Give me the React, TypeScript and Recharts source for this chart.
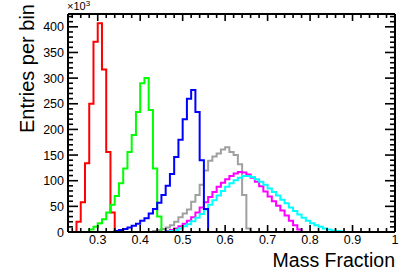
import React from 'react';
import { LineChart, Line, XAxis, YAxis } from 'recharts';

// histogram bin lower edges (bin width 0.01)
const binEdges = [
  0.23, 0.24, 0.25, 0.26, 0.27, 0.28, 0.29, 0.3, 0.31, 0.32, 0.33, 0.34, 0.35, 0.36, 0.37, 0.38,
  0.39, 0.4, 0.41, 0.42, 0.43, 0.44, 0.45, 0.46, 0.47, 0.48, 0.49, 0.5, 0.51, 0.52, 0.53, 0.54,
  0.55, 0.56, 0.57, 0.58, 0.59, 0.6, 0.61, 0.62, 0.63, 0.64, 0.65, 0.66, 0.67, 0.68, 0.69, 0.7,
  0.71, 0.72, 0.73, 0.74, 0.75, 0.76, 0.77, 0.78, 0.79, 0.8, 0.81, 0.82, 0.83, 0.84, 0.85, 0.86,
  0.87, 0.88, 0.89, 0.9, 0.91, 0.92, 0.93, 0.94, 0.95, 0.96, 0.97, 0.98, 0.99, 1.0,
];

// entries per bin (x10^3), each series starts at its first non-empty bin
const redStart = 0.25;
const redCounts = [20, 58, 134, 250, 371, 407, 317, 156, 38];

const greenStart = 0.28;
const greenCounts = [5, 10, 17, 25, 38, 53, 70, 95, 124, 156, 189, 234, 290, 300, 238, 124, 30];

const blueStart = 0.34;
const blueCounts = [2, 4, 6, 9, 12, 16, 22, 27, 36, 45, 57, 72, 90, 113, 146, 180, 220, 260, 277, 234, 140, 45];

const grayStart = 0.43;
const grayCounts = [2, 4, 6, 9, 13, 20, 29, 36, 44, 59, 72, 92, 120, 139, 147, 153, 161, 165, 156, 150, 132, 72, 7];

const magentaStart = 0.46;
const magentaCounts = [
  2, 4, 7, 11, 16, 22, 29, 38, 48, 58, 68, 78, 88, 96, 103, 109, 114, 117, 116, 112,
  106, 98, 89, 79, 69, 60, 51, 42, 32, 22, 13, 5,
];

const cyanStart = 0.46;
const cyanCounts = [
  1, 2, 4, 7, 11, 15, 21, 28, 35, 44, 53, 62, 71, 80, 88, 95, 101, 106, 109, 109,
  107, 103, 98, 92, 85, 78, 71, 63, 56, 48, 41, 34, 28, 22, 17, 13, 10, 7, 5, 3, 2, 1,
];

// axis ticks
const xTicks = [
  0.24, 0.26, 0.28, 0.3, 0.32, 0.34, 0.36, 0.38, 0.4, 0.42, 0.44, 0.46, 0.48, 0.5, 0.52, 0.54,
  0.56, 0.58, 0.6, 0.62, 0.64, 0.66, 0.68, 0.7, 0.72, 0.74, 0.76, 0.78, 0.8, 0.82, 0.84, 0.86,
  0.88, 0.9, 0.92, 0.94, 0.96, 0.98, 1.0,
];
const xMajor = [0.3, 0.4, 0.5, 0.6, 0.7, 0.8, 0.9, 1.0];
const yTicks = [
  0, 10, 20, 30, 40, 50, 60, 70, 80, 90, 100, 110, 120, 130, 140, 150, 160, 170, 180, 190, 200,
  210, 220, 230, 240, 250, 260, 270, 280, 290, 300, 310, 320, 330, 340, 350, 360, 370, 380, 390,
  400, 410, 420,
];
const yMajor = [0, 50, 100, 150, 200, 250, 300, 350, 400];

const series = [
  { key: 'gray', start: grayStart, counts: grayCounts, color: '#a0a0a0' },
  { key: 'magenta', start: magentaStart, counts: magentaCounts, color: '#ff00ff' },
  { key: 'cyan', start: cyanStart, counts: cyanCounts, color: '#00ffff' },
  { key: 'red', start: redStart, counts: redCounts, color: '#ff0000' },
  { key: 'green', start: greenStart, counts: greenCounts, color: '#00ff00' },
  { key: 'blue', start: blueStart, counts: blueCounts, color: '#0000ff' },
];

const data = binEdges.map((edge) => {
  const row: Record<string, number> = { x: edge };
  series.forEach((s) => {
    const i = Math.round((edge - s.start) * 100);
    row[s.key] = i >= 0 && i < s.counts.length ? s.counts[i] : 0;
  });
  return row;
});

const FONT = '"Liberation Sans", Arial, Helvetica, sans-serif';
const isMajorX = (v: number) => xMajor.some((m) => Math.abs(m - v) < 1e-6);
const isMajorY = (v: number) => yMajor.includes(v);

const BottomTick = (props: any) => {
  const { x, y, payload } = props;
  const major = isMajorX(payload.value);
  return (
    <g>
      <line x1={x} x2={x} y1={y} y2={y - (major ? 7 : 4)} stroke="#000" strokeWidth={1.6} />
      {major && (
        <text x={x} y={y + 12} textAnchor="middle" fontSize={12.5} fontFamily={FONT} fill="#000">
          {String(Number(payload.value.toFixed(2)))}
        </text>
      )}
    </g>
  );
};

const TopTick = (props: any) => {
  const { x, y, payload } = props;
  const major = isMajorX(payload.value);
  return <line x1={x} x2={x} y1={y} y2={y + (major ? 7 : 4)} stroke="#000" strokeWidth={1.6} />;
};

const LeftTick = (props: any) => {
  const { x, y, payload } = props;
  const major = isMajorY(payload.value);
  return (
    <g>
      <line x1={x} x2={x + (major ? 10 : 5)} y1={y} y2={y} stroke="#000" strokeWidth={1.6} />
      {major && (
        <text x={x - 4} y={y} dy="0.36em" textAnchor="end" fontSize={12.5} fontFamily={FONT} fill="#000">
          {payload.value}
        </text>
      )}
    </g>
  );
};

const RightTick = (props: any) => {
  const { x, y, payload } = props;
  const major = isMajorY(payload.value);
  return <line x1={x} x2={x - (major ? 10 : 5)} y1={y} y2={y} stroke="#000" strokeWidth={1.6} />;
};

export default function App() {
  return (
    <div style={{ position: 'relative', width: 415, height: 277, background: '#fff' }}>
      <style>{'body{margin:0}'}</style>
      <LineChart width={415} height={277} data={data} margin={{ top: 10, right: 10, bottom: 5, left: 28 }}>
        <XAxis
          dataKey="x"
          type="number"
          domain={[0.23, 1]}
          ticks={xTicks}
          interval={0}
          allowDataOverflow
          height={40}
          tickSize={0}
          tickMargin={0}
          tickLine={false}
          axisLine={{ stroke: '#000', strokeWidth: 2 }}
          tick={<BottomTick />}
        />
        <XAxis
          xAxisId="top"
          orientation="top"
          dataKey="x"
          type="number"
          domain={[0.23, 1]}
          ticks={xTicks}
          interval={0}
          allowDataOverflow
          height={4}
          tickSize={0}
          tickMargin={0}
          tickLine={false}
          axisLine={{ stroke: '#000', strokeWidth: 2 }}
          tick={<TopTick />}
        />
        <YAxis
          type="number"
          domain={[0, 425]}
          ticks={yTicks}
          interval={0}
          allowDataOverflow
          width={40}
          tickSize={0}
          tickMargin={0}
          tickLine={false}
          axisLine={{ stroke: '#000', strokeWidth: 2 }}
          tick={<LeftTick />}
        />
        <YAxis
          yAxisId="right"
          orientation="right"
          type="number"
          domain={[0, 425]}
          ticks={yTicks}
          interval={0}
          allowDataOverflow
          width={10}
          tickSize={0}
          tickMargin={0}
          tickLine={false}
          axisLine={{ stroke: '#000', strokeWidth: 2 }}
          tick={<RightTick />}
        />
        {series.map((s) => (
          <Line
            key={s.key}
            type="stepAfter"
            dataKey={s.key}
            stroke={s.color}
            strokeWidth={2}
            dot={false}
            activeDot={false}
            isAnimationActive={false}
          />
        ))}
      </LineChart>
      <svg
        width={415}
        height={277}
        style={{ position: 'absolute', left: 0, top: 0, pointerEvents: 'none' }}
      >
        <text x={67} y={10} fontSize={11} fontFamily={FONT} fill="#000">
          ×10<tspan fontSize={8} dy={-4}>3</tspan>
        </text>
        <text
          transform="translate(34, 4) rotate(-90)"
          textAnchor="end"
          fontSize={20}
          fontFamily={FONT}
          fill="#000"
        >
          Entries per bin
        </text>
        <text x={395} y={267} textAnchor="end" fontSize={19.5} fontFamily={FONT} fill="#000">
          Mass Fraction
        </text>
      </svg>
    </div>
  );
}
